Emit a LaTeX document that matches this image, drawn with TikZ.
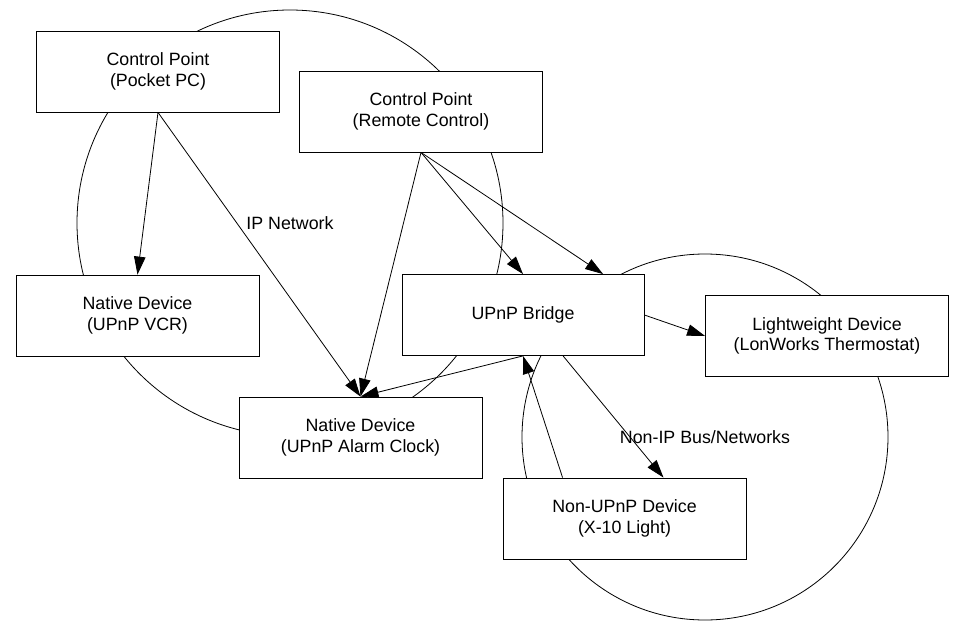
\documentclass[tikz,border=0pt]{standalone}
\usepackage{fontspec}
\setmainfont{Liberation Sans}
\usetikzlibrary{arrows.meta,calc}
\begin{document}
\begin{tikzpicture}[x=1pt,y=-1pt,
  box/.style={draw, fill=white, line width=0.8pt, minimum width=243pt, minimum height=81pt, inner sep=0pt, align=center, font=\fontsize{17.8}{20.5}\selectfont},
  lbl/.style={inner sep=0pt, font=\fontsize{17.8}{20.5}\selectfont},
  conn/.style={line width=0.8pt, -{Triangle[length=18pt,width=11.5pt]}},
  ring/.style={line width=0.8pt}]
\useasboundingbox (0,0) rectangle (954,621);
\coordinate (ipc) at (290,223);
\coordinate (nipc) at (705,437);
\draw[ring] (ipc) circle[radius=213pt];
\draw[ring] (nipc) circle[radius=183pt];
\node[box] (ppc) at (158,71.5) {Control Point\\(Pocket PC)};
\node[box] (rc) at (421,111.5) {Control Point\\(Remote Control)};
\node[box] (vcr) at (137.5,315.5) {Native Device\\(UPnP VCR)};
\node[box, minimum width=242pt] (bridge) at (523,315) {UPnP Bridge};
\node[box] (light) at (827,336) {Lightweight Device\\(LonWorks Thermostat)};
\node[box] (alarm) at (360.5,437.5) {Native Device\\(UPnP Alarm Clock)};
\node[box] (nonupnp) at (624.5,518.5) {Non-UPnP Device\\(X-10 Light)};
\node[lbl] (iplabel) at (ipc) {IP Network};
\node[lbl] (noniplabel) at (nipc) {Non-IP Bus/Networks};
\coordinate (bridgeTopR) at ($(bridge.north west)!0.83!(bridge.north east)$);
\coordinate (bridgeBotR) at ($(bridge.south west)!0.665!(bridge.south east)$);
\coordinate (nonTopL) at ($(nonupnp.north west)!0.246!(nonupnp.north east)$);
\coordinate (nonTopR) at ($(nonupnp.north west)!0.66!(nonupnp.north east)$);
\draw[conn] (ppc.south) -- (vcr.north);
\draw[conn] (ppc.south) -- (alarm.north);
\draw[conn] (rc.south) -- (alarm.north);
\draw[conn] (rc.south) -- (bridge.north);
\draw[conn] (rc.south) -- (bridgeTopR);
\draw[conn] (bridge.south) -- (alarm.north);
\draw[conn] (bridge.east) -- (light.west);
\draw[conn] (nonTopL) -- (bridge.south);
\draw[conn] (bridgeBotR) -- (nonTopR);
\end{tikzpicture}
\end{document}
